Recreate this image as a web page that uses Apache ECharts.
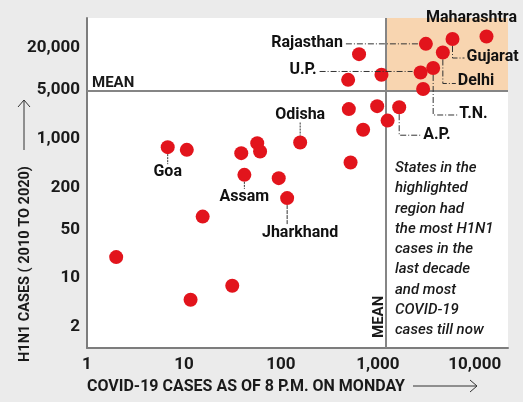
<!DOCTYPE html>
<html>
<head>
<meta charset="utf-8">
<script src="https://cdn.jsdelivr.net/npm/echarts@6/dist/echarts.min.js"></script>
<style>
  html, body { margin: 0; padding: 0; background: #ebebeb; }
  #main { width: 523px; height: 402px; }
</style>
</head>
<body>
<div id="main"></div>
<script>
// 数据
var states = ['Maharashtra', 'Gujarat', 'Rajasthan', 'Delhi', 'T.N.', 'U.P.', '', '', '', '',
              '', '', 'A.P.', '', '', '', 'Odisha', '', '', '',
              'Goa', '', 'Assam', '', 'Jharkhand', '', '', '', ''];
var covidCases = [13200, 5890, 3130, 4680, 3720, 2760, 2930, 1090, 640, 494,
                  502, 984, 1660, 1260, 705, 523, 158, 57, 61, 39,
                  6.8, 10.7, 42, 95, 116, 15.6, 2, 31.5, 11.7];
var h1n1Cases = [28800, 26500, 22600, 17000, 10200, 8800, 5100, 8150, 16100, 6900,
                 2630, 2900, 2800, 1800, 1330, 452, 874, 857, 649, 616,
                 750, 687, 301, 270, 140, 76, 20, 7.8, 4.9];
var xTicks = [1, 10, 100, 1000, 10000];
var yTicks = [2, 10, 50, 200, 1000, 5000, 20000];
var covidMean = 1220;
var h1n1Mean = 4800;
var X_MAX = 22000, Y_MAX = 53000;

var FONT = 'Roboto';

function fmt(v) { return Number(v).toLocaleString('en-US'); }

var points = [];
for (var i = 0; i < states.length; i++) {
    points.push({ name: states[i], value: [covidCases[i], h1n1Cases[i]] });
}

var dom = document.getElementById('main');
var myChart = echarts.init(dom);

var meanLabel = { formatter: 'MEAN', color: '#1a1a1a', fontSize: 15, fontWeight: 'bold', fontFamily: FONT, position: 'insideStartTop' };

var option = {
    backgroundColor: '#ebebeb',
    animation: false,
    grid: { left: 87, right: 15, top: 18, bottom: 54, show: true, backgroundColor: '#fff', borderWidth: 0 },
    xAxis: {
        type: 'log', min: 1, max: X_MAX,
        axisLine: { lineStyle: { color: '#7d7d7d', width: 2 } },
        axisTick: { show: false },
        splitLine: { show: false },
        axisLabel: { customValues: xTicks, formatter: fmt, color: '#1a1a1a', fontSize: 17, fontWeight: 'bold', fontFamily: FONT, margin: 8 }
    },
    yAxis: {
        type: 'log', min: 1, max: Y_MAX,
        axisLine: { show: true, lineStyle: { color: '#7d7d7d', width: 2 } },
        axisTick: { show: false },
        splitLine: { show: false },
        axisLabel: { customValues: yTicks, formatter: fmt, color: '#1a1a1a', fontSize: 17, fontWeight: 'bold', fontFamily: FONT, margin: 7 }
    },
    series: [{
        type: 'scatter',
        symbolSize: 14,
        itemStyle: { color: '#e2141c', opacity: 1 },
        data: points,
        z: 5,
        markArea: {
            silent: true,
            itemStyle: { color: '#f8d5b0' },
            data: [[{ xAxis: covidMean, yAxis: h1n1Mean }, { xAxis: X_MAX, yAxis: Y_MAX }]]
        },
        markLine: {
            silent: true,
            symbol: 'none',
            lineStyle: { color: '#858585', width: 2, type: 'solid' },
            data: [
                { yAxis: h1n1Mean, label: echarts.util.extend({ distance: [5, 0] }, meanLabel) },
                { xAxis: covidMean, label: echarts.util.extend({ distance: [10, -1] }, meanLabel) }
            ]
        }
    }]
};
myChart.setOption(option);

// 标注位置 (相对点的像素偏移)
var notes = {
    'Maharashtra': { at: [-15, -19], align: 'center' },
    'Rajasthan': { at: [-83, -1], align: 'right', line: [[-80, 0], [-8, 0]], dash: [6, 2, 1, 2] },
    'U.P.': { at: [-104, -2], align: 'right', line: [[-101, -1], [-8, -1]], dash: [6, 2, 1, 2] },
    'Gujarat': { at: [14, 18], align: 'left', line: [[0, 7], [0, 19], [12, 19]], dash: [6, 2, 1, 2] },
    'Delhi': { at: [15, 29], align: 'left', line: [[0, 7], [0, 31], [13, 31]], dash: [6, 2, 1, 2] },
    'T.N.': { at: [26, 46], align: 'left', line: [[0, 7], [0, 47], [24, 47]], dash: [6, 2, 1, 2] },
    'A.P.': { at: [24, 28], align: 'left', line: [[0, 7], [0, 28], [22, 28]], dash: [6, 2, 1, 2] },
    'Odisha': { at: [0, -28], align: 'center', line: [[0, -20], [0, -7]], dash: [2, 1] },
    'Goa': { at: [0, 25], align: 'center', line: [[0, 7], [0, 17]], dash: [2, 1] },
    'Assam': { at: [0, 22], align: 'center', line: [[0, 7], [0, 14]], dash: [2, 1] },
    'Jharkhand': { at: [13, 35], align: 'center', line: [[0, 7], [0, 26]], dash: [4, 1] }
};

var graphics = [];
for (var j = 0; j < states.length; j++) {
    var n = notes[states[j]];
    if (!n) continue;
    var p = myChart.convertToPixel({ seriesIndex: 0 }, [covidCases[j], h1n1Cases[j]]);
    graphics.push({
        type: 'text', z: 10,
        style: { text: states[j], x: p[0] + n.at[0], y: p[1] + n.at[1], align: n.align, verticalAlign: 'middle',
                 fill: '#111', fontSize: 16, fontWeight: 'bold', fontFamily: FONT }
    });
    if (n.line) {
        graphics.push({
            type: 'polyline', z: 9,
            shape: { points: n.line.map(function (o) { return [p[0] + o[0], p[1] + o[1]]; }) },
            style: { stroke: '#333', lineWidth: 1, lineDash: n.dash, fill: null }
        });
    }
}

// 说明文字 / 坐标轴名称
graphics.push({
    type: 'text', z: 10,
    style: { text: 'States in the\nhighlighted\nregion had\nthe most H1N1\ncases in the\nlast decade\nand most\nCOVID-19\ncases till now',
             x: 395, y: 158, fill: '#1a1a1a', fontSize: 15, fontStyle: 'italic', fontWeight: 500, fontFamily: FONT, lineHeight: 20.3 }
});
graphics.push({
    type: 'text', z: 10,
    style: { text: 'COVID-19 CASES AS OF 8 P.M. ON MONDAY', x: 87, y: 386.5, verticalAlign: 'middle',
             fill: '#1a1a1a', fontSize: 16, fontWeight: 'bold', fontFamily: FONT }
});
graphics.push({
    type: 'polyline', shape: { points: [[413, 386], [477, 386]] }, style: { stroke: '#333', lineWidth: 1 }
});
graphics.push({
    type: 'polyline', shape: { points: [[470, 380], [477, 386], [470, 392]] }, style: { stroke: '#333', lineWidth: 1, fill: null }
});
graphics.push({
    type: 'text', z: 10, x: 25, y: 264, rotation: Math.PI / 2,
    style: { text: 'H1N1 CASES ( 2010 TO 2020)', x: 0, y: 0, align: 'center', verticalAlign: 'middle',
             fill: '#1a1a1a', fontSize: 14.5, fontWeight: 'bold', fontFamily: FONT }
});
graphics.push({
    type: 'polyline', shape: { points: [[24, 150], [24, 100]] }, style: { stroke: '#333', lineWidth: 1 }
});
graphics.push({
    type: 'polyline', shape: { points: [[18, 107], [24, 100], [30, 107]] }, style: { stroke: '#333', lineWidth: 1, fill: null }
});

myChart.setOption({ graphic: graphics });

window.onresize = function () { myChart.resize(); };
</script>
</body>
</html>
